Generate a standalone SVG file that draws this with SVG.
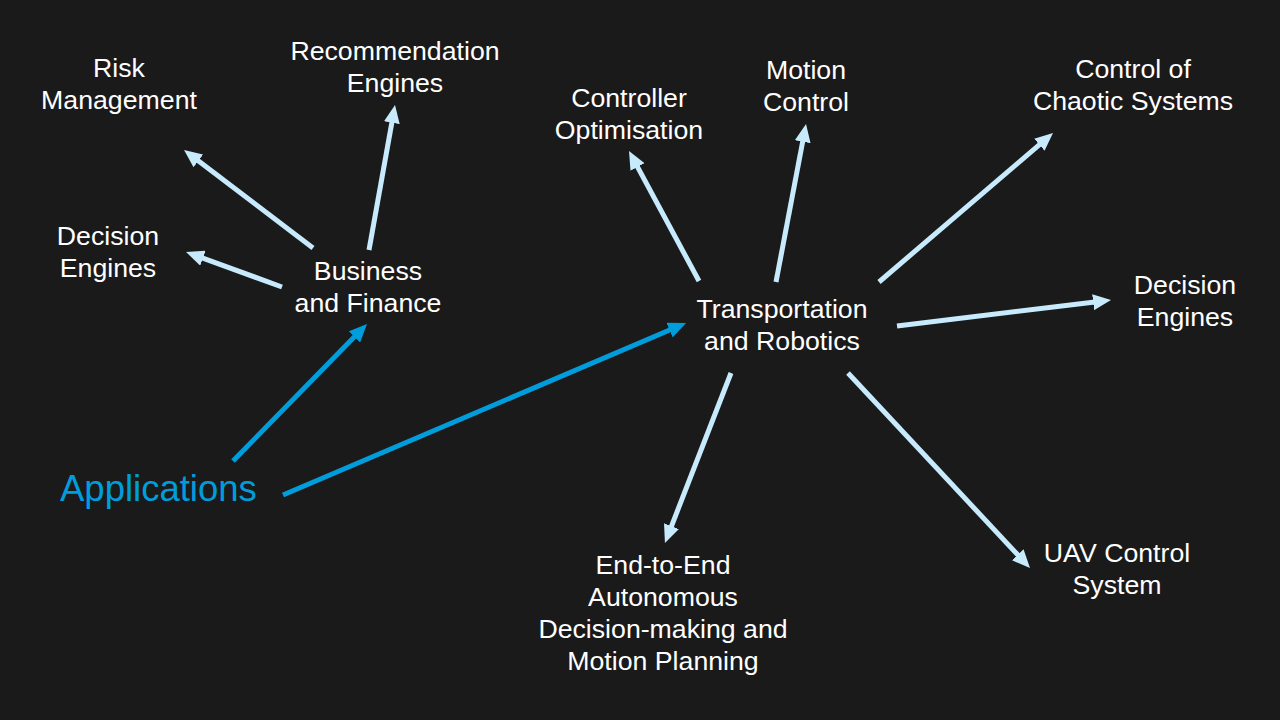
<svg xmlns="http://www.w3.org/2000/svg" width="1280" height="720" viewBox="0 0 1280 720">
<style>
text{font-family:"Liberation Sans",Arial,sans-serif;font-size:26.7px;fill:#FFFFFF;text-anchor:middle}
.app{font-size:36.5px;fill:#009DDC;text-anchor:start}
.lt{stroke:#C8EAFD;stroke-width:5;fill:none}
.bl{stroke:#009DDC;stroke-width:5;fill:none}
</style>
<defs>
<marker id="ahL" markerUnits="userSpaceOnUse" markerWidth="18" markerHeight="16" refX="6" refY="8" orient="auto" viewBox="0 0 18 16"><path d="M0,0 L18,8 L0,16 z" fill="#C8EAFD"/></marker>
<marker id="ahB" markerUnits="userSpaceOnUse" markerWidth="18" markerHeight="16" refX="6" refY="8" orient="auto" viewBox="0 0 18 16"><path d="M0,0 L18,8 L0,16 z" fill="#009DDC"/></marker>
</defs>
<rect width="1280" height="720" fill="#1A1A1A"/>
<g id="connectors">
<line class="bl" x1="233" y1="461" x2="358.6" y2="332.6" marker-end="url(#ahB)"/>
<line class="bl" x1="283" y1="495" x2="675" y2="327.7" marker-end="url(#ahB)"/>
<line class="lt" x1="313" y1="248" x2="193.6" y2="157.3" marker-end="url(#ahL)"/>
<line class="lt" x1="282" y1="287" x2="197.3" y2="256.1" marker-end="url(#ahL)"/>
<line class="lt" x1="369" y1="250" x2="392.9" y2="116.8" marker-end="url(#ahL)"/>
<line class="lt" x1="699" y1="281" x2="634.7" y2="161.6" marker-end="url(#ahL)"/>
<line class="lt" x1="776" y1="282" x2="803.8" y2="135.8" marker-end="url(#ahL)"/>
<line class="lt" x1="879" y1="282" x2="1043.9" y2="140.8" marker-end="url(#ahL)"/>
<line class="lt" x1="897" y1="326" x2="1099.1" y2="301.5" marker-end="url(#ahL)"/>
<line class="lt" x1="731" y1="373" x2="669.3" y2="531.8" marker-end="url(#ahL)"/>
<line class="lt" x1="848" y1="373" x2="1021.8" y2="559.2" marker-end="url(#ahL)"/>
</g>
<g id="applications"><text class="app" x="60" y="501">Applications</text></g>
<g id="business"><text x="368" y="280">Business</text><text x="368" y="312">and Finance</text></g>
<g id="transportation"><text x="782" y="318">Transportation</text><text x="782" y="350">and Robotics</text></g>
<g id="risk"><text x="119" y="77">Risk</text><text x="119" y="109">Management</text></g>
<g id="recommendation"><text x="395" y="60">Recommendation</text><text x="395" y="92">Engines</text></g>
<g id="decision-left"><text x="108" y="245">Decision</text><text x="108" y="277">Engines</text></g>
<g id="controller"><text x="629" y="107">Controller</text><text x="629" y="139">Optimisation</text></g>
<g id="motion"><text x="806" y="79">Motion</text><text x="806" y="111">Control</text></g>
<g id="chaotic"><text x="1133" y="78">Control of</text><text x="1133" y="110">Chaotic Systems</text></g>
<g id="decision-right"><text x="1185" y="294">Decision</text><text x="1185" y="326">Engines</text></g>
<g id="end-to-end"><text x="663" y="574">End-to-End</text><text x="663" y="606">Autonomous</text><text x="663" y="638">Decision-making and</text><text x="663" y="670">Motion Planning</text></g>
<g id="uav"><text x="1117" y="562">UAV Control</text><text x="1117" y="594">System</text></g>
</svg>
